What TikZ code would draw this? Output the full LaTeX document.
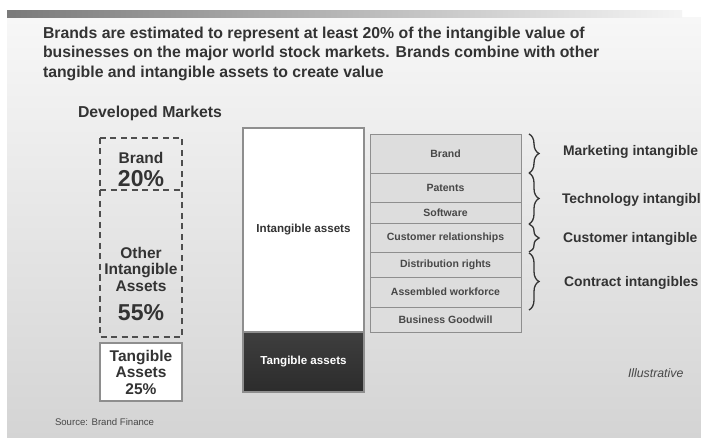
\documentclass[tikz,border=0pt]{standalone}
\usepackage{fontspec}
\setmainfont{Liberation Sans}
\usetikzlibrary{calc,decorations.pathreplacing}
\definecolor{ink}{HTML}{333333}
\definecolor{midink}{HTML}{474747}
\definecolor{rule}{HTML}{8E8E8E}
\definecolor{cellfill}{HTML}{DDDDDD}
\definecolor{bgtop}{HTML}{F7F7F7}
\definecolor{bgbot}{HTML}{D4D4D4}
\definecolor{barleft}{HTML}{7A7A7A}
\definecolor{barmid}{HTML}{9A9A9A}
\definecolor{barright}{HTML}{F4F4F4}
\definecolor{darktop}{HTML}{3E3E3E}
\definecolor{darkmid}{HTML}{5C5C5C}
\definecolor{darkbot}{HTML}{2C2C2C}
\definecolor{dashink}{HTML}{4E4E4E}
\begin{document}
\begin{tikzpicture}[x=1pt,y=-1pt,
  every node/.style={inner sep=0pt, outer sep=0pt},
  titleline/.style={anchor=base west, font=\fontsize{15.8}{19}\selectfont\bfseries, text=ink},
  bigtext/.style={font=\fontsize{15.5}{16.5}\selectfont\bfseries, text=ink, align=center},
  pcttext/.style={font=\fontsize{23}{24}\selectfont\bfseries, text=ink},
  dashbox/.style={draw=dashink, line width=2pt, dash pattern=on 6pt off 4.5pt},
  stack/.style={draw=rule, line width=1.4pt, minimum width=121pt, anchor=north west,
    font=\fontsize{11.6}{13}\selectfont\bfseries},
  cell/.style={draw=rule, line width=0.9pt, fill=cellfill, minimum width=151pt, anchor=north west,
    font=\fontsize{10.5}{12}\selectfont\bfseries, text=midink},
  bracket/.style={draw=ink, line width=1.3pt, decorate, decoration={brace, amplitude=10pt, aspect=0.5}},
  grouplabel/.style={anchor=west, font=\fontsize{13.9}{15}\selectfont\bfseries, text=ink}
]
\useasboundingbox (0,0) rectangle (701,438);
% page and slide background
\fill[white] (0,0) rectangle (701,438);
\shade[top color=bgtop, bottom color=bgbot] (7,18) rectangle (701,438);
\shade[left color=barleft, middle color=barmid, right color=barright] (7,11) rectangle (682,18);

% heading
\node[titleline] (t1) at (43,38.5) {Brands are estimated to represent at least 20\% of the intangible value of};
\node[titleline] (t2) at (43,58) {businesses on the major world stock markets. Brands combine with other};
\node[titleline] (t3) at (43,77.5) {tangible and intangible assets to create value};
\node[titleline] (dm) at (78,117.5) {Developed Markets};

% developed markets split
\draw[dashbox] (100,138) rectangle (182,337);
\draw[dashbox] (100,190) -- (182,190);
\node[bigtext] (brandLbl) at (141,158) {Brand};
\node[pcttext] (brandPct) at (141,179) {20\%};
\node[bigtext] (otherLbl) at (141,269) {Other\\Intangible\\Assets};
\node[pcttext] (otherPct) at (141,313) {55\%};
\node[draw=rule, line width=1.4pt, fill=white, minimum width=82pt, minimum height=58pt,
      bigtext] (tangBox) at (141,372) {Tangible\\Assets\\25\%};

% asset stack
\node[stack, fill=white, minimum height=204pt, text=ink] (intang) at (243,128) {Intangible assets};
\node[stack, minimum height=60pt, top color=darktop, middle color=darkmid, bottom color=darkbot,
      text=white] (tang) at (243,332) {Tangible assets};

% intangible asset types
\node[cell, minimum height=39pt] (cBrand) at (370,134) {Brand};
\node[cell, minimum height=29pt] (cPat) at (370,173) {Patents};
\node[cell, minimum height=21pt] (cSoft) at (370,202) {Software};
\node[cell, minimum height=29pt] (cCust) at (370,223) {Customer relationships};
\node[cell, minimum height=25pt] (cDist) at (370,252) {Distribution rights};
\node[cell, minimum height=30pt] (cWork) at (370,277) {Assembled workforce};
\node[cell, minimum height=25pt] (cGood) at (370,307) {Business Goodwill};

% groupings
\draw[bracket] ($(cBrand.north east)+(8,0)$) -- ($(cBrand.south east)+(8,0)$);
\draw[bracket] ($(cPat.north east)+(8,0)$) -- ($(cSoft.south east)+(8,1)$);
\draw[bracket] ($(cCust.north east)+(8,1)$) -- ($(cCust.south east)+(8,0)$);
\draw[bracket] ($(cDist.north east)+(8,1)$) -- ($(cWork.south east)+(8,3)$);
\node[grouplabel] (gMkt) at (563,152) {Marketing intangible};
\node[grouplabel] (gTech) at (562,200) {Technology intangible};
\node[grouplabel] (gCust) at (563,239) {Customer intangible};
\node[grouplabel] (gCon) at (564,283) {Contract intangibles};

% footnotes
\node[anchor=west, font=\fontsize{12.3}{13}\selectfont\itshape, text=midink] (illus) at (628,373) {Illustrative};
\node[anchor=west, font=\fontsize{9.6}{11}\selectfont, text=midink] (src) at (55,422) {Source: Brand Finance};
\end{tikzpicture}
\end{document}
